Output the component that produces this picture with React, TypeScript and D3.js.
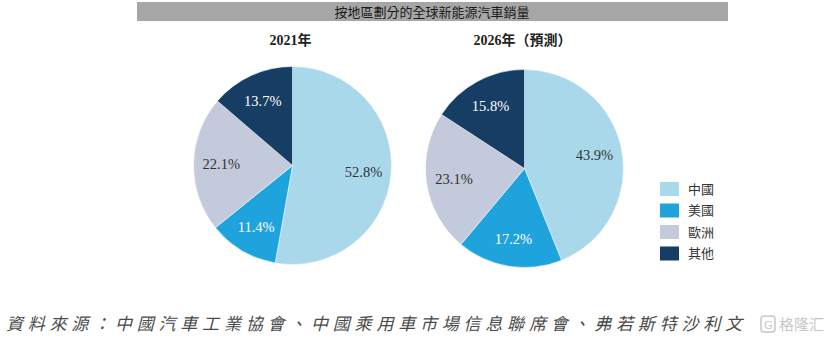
import React from "react";
import * as d3 from "d3";

const categories = ["中國", "美國", "歐洲", "其他"];
const values2021 = [52.8, 11.4, 22.1, 13.7];
const values2026 = [43.9, 17.2, 23.1, 15.8];
const pieTitles = ["2021年", "2026年（預測）"];
const colors = ["#a8d8ea", "#1fa3dc", "#c2cadb", "#163d63"];
const labelColors = ["#333333", "#ffffff", "#333333", "#ffffff"];
const title = "按地區劃分的全球新能源汽車銷量";
const source = "資料來源：中國汽車工業協會、中國乘用車市場信息聯席會、弗若斯特沙利文";

const W = 831;
const H = 342;

function Pie({ values, cx, cy, r, label }: { values: number[]; cx: number; cy: number; r: number; label: string }) {
  const pie = d3.pie<number>().sort(null).value((d) => d);
  const arcs = pie(values);
  const arc = d3.arc<d3.PieArcDatum<number>>().innerRadius(0).outerRadius(r);
  const labelArc = d3.arc<d3.PieArcDatum<number>>().innerRadius(r * 0.72).outerRadius(r * 0.72);
  return (
    <g>
      <text x={cx - 2} y={45} textAnchor="middle" fontFamily="'Liberation Serif', 'Noto Sans CJK TC', serif" fontWeight="bold" fontSize={14} fill="#222">
        {label}
      </text>
      <g transform={`translate(${cx},${cy})`}>
        {arcs.map((a, i) => (
          <path key={i} d={arc(a) || ""} fill={colors[i]} stroke="#ffffff" strokeWidth={0.5} />
        ))}
        {arcs.map((a, i) => {
          const [x, y] = labelArc.centroid(a);
          return (
            <text key={"t" + i} x={x} y={y} dy="0.35em" textAnchor="middle" fontFamily="'Liberation Serif', 'DejaVu Serif', serif" fontSize={14.5} fill={labelColors[i]}>
              {d3.format(".1f")(a.data)}%
            </text>
          );
        })}
      </g>
    </g>
  );
}

export default function App() {
  const legendY = d3.scaleBand<string>().domain(categories).range([180, 266]);
  return (
    <svg width={W} height={H} style={{ position: "absolute", left: 0, top: 0, background: "#fff" }}>
      <rect x={137} y={2} width={591} height={19} fill="#a6a6a6" />
      <text x={432} y={12} dy="0.35em" textAnchor="middle" fontFamily="'Noto Sans CJK TC', sans-serif" fontSize={13} fill="#1a1a1a">
        {title}
      </text>
      <Pie values={values2021} cx={292.5} cy={165.5} r={99} label={pieTitles[0]} />
      <Pie values={values2026} cx={524.5} cy={168.5} r={99} label={pieTitles[1]} />
      {categories.map((c, i) => (
        <g key={c} transform={`translate(660,${legendY(c)})`}>
          <rect x={0} y={2} width={19} height={14} fill={colors[i]} />
          <text x={28} y={9} dy="0.35em" fontFamily="'Noto Sans CJK TC', serif" fontSize={13} fill="#333">
            {c}
          </text>
        </g>
      ))}
      <text x={6} y={330} fontFamily="'Noto Sans CJK TC', sans-serif" fontSize={17} fontStyle="italic" fill="#4a4a4a" textLength={736} lengthAdjust="spacing">
        {source}
      </text>
      <g opacity={0.55}>
        <rect x={761} y={316} width={14} height={16} rx={3} fill="none" stroke="#999" strokeWidth={1.5} />
        <text x={764} y={329} fontFamily="'DejaVu Sans', sans-serif" fontSize={11} fill="#999">G</text>
        <text x={779} y={330} fontFamily="'Noto Sans CJK SC', sans-serif" fontSize={15} fill="#999">格隆汇</text>
      </g>
    </svg>
  );
}
